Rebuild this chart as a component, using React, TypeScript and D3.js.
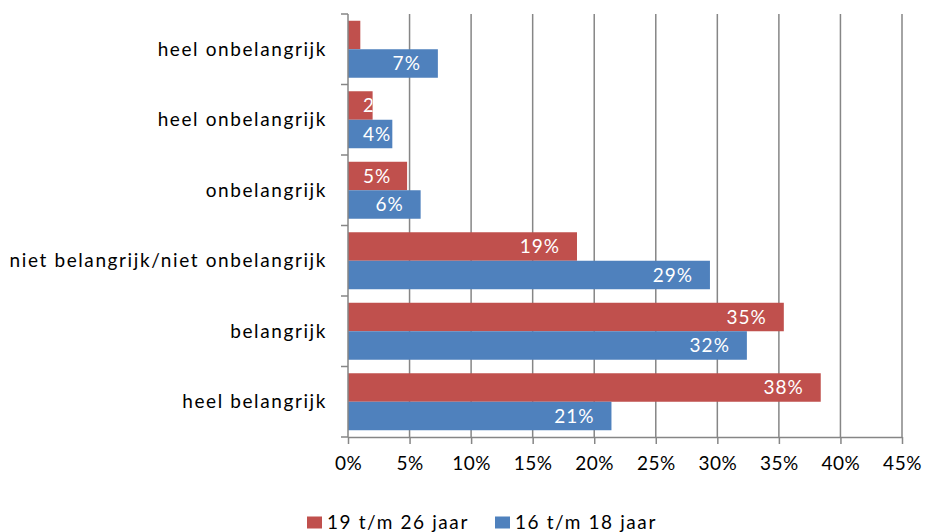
import React, { useEffect, useRef } from "react";
import * as d3 from "d3";

const categories = [
  "heel onbelangrijk",
  "heel onbelangrijk",
  "onbelangrijk",
  "niet belangrijk/niet onbelangrijk",
  "belangrijk",
  "heel belangrijk",
];
const seriesNames = ["19 t/m 26 jaar", "16 t/m 18 jaar"];
const older = [1.0, 2.0, 4.8, 18.6, 35.4, 38.4];
const younger = [7.3, 3.6, 5.9, 29.4, 32.4, 21.4];
const xTicks = [0, 5, 10, 15, 20, 25, 30, 35, 40, 45];
const colors = ["#C0504D", "#4F81BD"];

const FONT = "Lato, 'Open Sans', sans-serif";

export default function App() {
  const ref = useRef<SVGSVGElement>(null);

  useEffect(() => {
    const svg = d3.select(ref.current);
    svg.selectAll("*").remove();

    const left = 348, right = 902, top = 14, bottom = 437;

    const x = d3.scaleLinear().domain([0, 45]).range([left, right]);
    const y = d3
      .scaleBand()
      .domain(categories.map((c, i) => String(i)))
      .range([top, bottom])
      .padding(0);
    const inner = d3
      .scaleBand()
      .domain(["0", "1"])
      .range([0, y.bandwidth()])
      .paddingInner(0)
      .paddingOuter(0.237);

    const rows = categories.map((c, i) => ({
      key: String(i),
      label: c,
      vals: [older[i], younger[i]],
    }));

    // gridlines
    svg
      .append("g")
      .selectAll("line")
      .data(xTicks.slice(1))
      .enter()
      .append("line")
      .attr("x1", d => x(d))
      .attr("x2", d => x(d))
      .attr("y1", top)
      .attr("y2", bottom)
      .attr("stroke", "#868686")
      .attr("stroke-width", 1.5);

    // bars
    const defs = svg.append("defs");
    const bars = svg.append("g");
    const labels = svg.append("g");
    rows.forEach((r, i) => {
      r.vals.forEach((v, s) => {
        const by = y(r.key)! + inner(String(s))!;
        const bw = x(v) - x(0);
        const bh = inner.bandwidth();
        bars
          .append("rect")
          .attr("x", x(0))
          .attr("y", by)
          .attr("width", bw)
          .attr("height", bh)
          .attr("fill", colors[s]);

        const id = "clip-" + i + "-" + s;
        defs
          .append("clipPath")
          .attr("id", id)
          .append("rect")
          .attr("x", x(0))
          .attr("y", by)
          .attr("width", bw)
          .attr("height", bh);

        const t = labels
          .append("text")
          .attr("clip-path", "url(#" + id + ")")
          .attr("y", by + bh / 2)
          .attr("dy", "0.35em")
          .attr("font-family", FONT)
          .attr("font-size", 19)
          .attr("letter-spacing", 1)
          .attr("fill", "#fff")
          .text(Math.round(v) + "%");
        const tw = (t.node() as SVGTextElement).getComputedTextLength();
        // inside end, pushed right when it does not fit
        let start = x(v) - 17 - tw;
        if (start < x(0) + 15) start = x(0) + 15;
        t.attr("x", start);
      });
    });

    // y axis
    const ya = svg.append("g").attr("stroke", "#868686").attr("stroke-width", 1.5);
    ya.append("line")
      .attr("x1", left)
      .attr("x2", left)
      .attr("y1", top)
      .attr("y2", bottom);
    const bounds = categories.map((c, i) => y(String(i))!).concat([bottom]);
    ya.selectAll(".tk")
      .data(bounds)
      .enter()
      .append("line")
      .attr("x1", left - 7)
      .attr("x2", left)
      .attr("y1", d => d)
      .attr("y2", d => d);

    svg
      .append("g")
      .selectAll("text")
      .data(rows)
      .enter()
      .append("text")
      .attr("x", 327)
      .attr("y", d => y(d.key)! + y.bandwidth() / 2)
      .attr("dy", "0.35em")
      .attr("text-anchor", "end")
      .attr("font-family", FONT)
      .attr("font-size", 19)
      .attr("letter-spacing", 1.6)
      .attr("fill", "#000")
      .text(d => d.label);

    // x axis
    const xa = svg
      .append("g")
      .attr("transform", "translate(0," + bottom + ")")
      .call(
        d3
          .axisBottom(x)
          .tickValues(xTicks)
          .tickSize(7)
          .tickSizeOuter(0)
          .tickPadding(13)
          .tickFormat(d => d + "%")
      );
    xa.selectAll("path,line").attr("stroke", "#868686").attr("stroke-width", 1.5);
    xa.selectAll("text")
      .attr("font-family", FONT)
      .attr("font-size", 19)
      .attr("letter-spacing", 0.5)
      .attr("fill", "#000");

    // legend
    const lg = svg.append("g");
    const legX = [307, 495];
    seriesNames.forEach((n, s) => {
      lg.append("rect")
        .attr("x", legX[s])
        .attr("y", 516.5)
        .attr("width", 15)
        .attr("height", 12)
        .attr("fill", colors[s]);
      lg.append("text")
        .attr("x", legX[s] + 20)
        .attr("y", 529)
        .attr("font-family", FONT)
        .attr("font-size", 19)
        .attr("letter-spacing", 1.6)
        .attr("fill", "#000")
        .text(n);
    });
  }, []);

  return (
    <svg
      ref={ref}
      width={925}
      height={532}
      style={{ position: "absolute", left: 0, top: 0, background: "#fff" }}
    />
  );
}
